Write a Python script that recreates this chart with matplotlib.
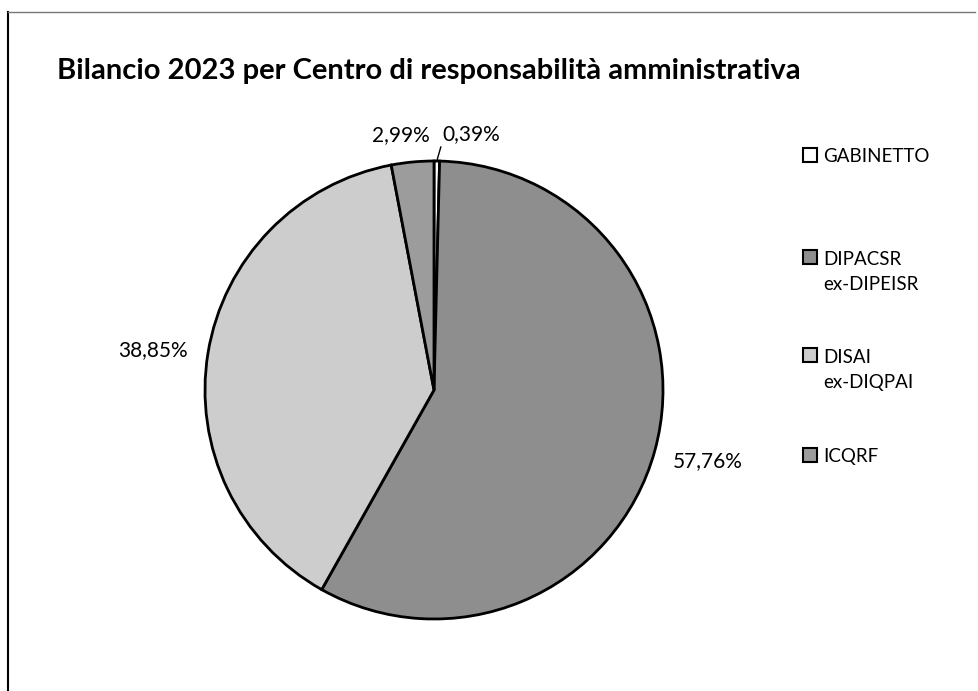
import numpy as np
import matplotlib.pyplot as plt
from matplotlib.patches import Rectangle
from matplotlib.lines import Line2D

# dati
centri = ['GABINETTO', 'DIPACSR\nex-DIPEISR', 'DISAI\nex-DIQPAI', 'ICQRF']
quote = [0.39, 57.76, 38.85, 2.99]
etichette = ['0,39%', '57,76%', '38,85%', '2,99%']
colori = ['#ffffff', '#8e8e8e', '#cdcdcd', '#9c9c9c']

plt.rcParams['font.family'] = ['Lato', 'DejaVu Sans']

W, H = 979, 691
fig = plt.figure(figsize=(W / 100, H / 100), dpi=100)
ax = fig.add_axes([0, 0, 1, 1])

cx, cy, R = 434, H - 390, 229
wedges, _ = ax.pie(quote, colors=colori, startangle=90, counterclock=False,
                   center=(cx, cy), radius=R, frame=True,
                   wedgeprops=dict(edgecolor='black', linewidth=2))
ax.set_xlim(0, W)
ax.set_ylim(0, H)
ax.axis('off')

# etichette percentuali
for w, lab, q in zip(wedges, etichette, quote):
    ang = np.deg2rad((w.theta1 + w.theta2) / 2)
    ca, sa = np.cos(ang), np.sin(ang)
    if q > 10:
        d = 1.08 if ca > 0 else 1.09
        ax.text(cx + d * R * ca, cy + d * R * sa - 5 * (ca > 0), lab, fontsize=15,
                ha='left' if ca > 0 else 'right', va='center')
    elif q > 1:
        ax.text(cx + 1.12 * R * ca - 9, cy + 1.12 * R * sa, lab, fontsize=15,
                ha='center', va='center')
    else:
        ax.annotate(lab, xy=(cx + R * ca, cy + R * sa),
                    xytext=(cx + R * ca + 6, cy + 1.118 * R * sa),
                    fontsize=15, ha='left', va='center',
                    arrowprops=dict(arrowstyle='-', color='black', lw=1,
                                    shrinkA=0, shrinkB=0, relpos=(0, 0.2)))

# titolo
fig.text(57 / W, 1 - 71 / H, 'Bilancio 2023 per Centro di responsabilità amministrativa',
         fontsize=21, fontweight='bold', ha='left', va='center')

# legenda
ly = [155, 257, 355, 455]
for w, nome, y in zip(wedges, centri, ly):
    fig.patches.append(Rectangle((803 / W, 1 - (y + 7) / H), 14 / W, 14 / H,
                                 transform=fig.transFigure, facecolor=w.get_facecolor(),
                                 edgecolor='black', linewidth=1.5))
    righe = nome.count('\n')
    fig.text(823 / W, 1 - (y + 7 + 26 * righe) / H, nome, fontsize=13.5,
             ha='left', va='baseline', linespacing=1.6)

# cornice
fig.add_artist(Line2D([8 / W, 8 / W], [0, 1 - 12 / H], color='black', lw=1.5))
fig.add_artist(Line2D([8 / W, 975 / W], [1 - 12 / H, 1 - 12 / H], color='#777777', lw=1))

fig.savefig('out.png', dpi=100)
